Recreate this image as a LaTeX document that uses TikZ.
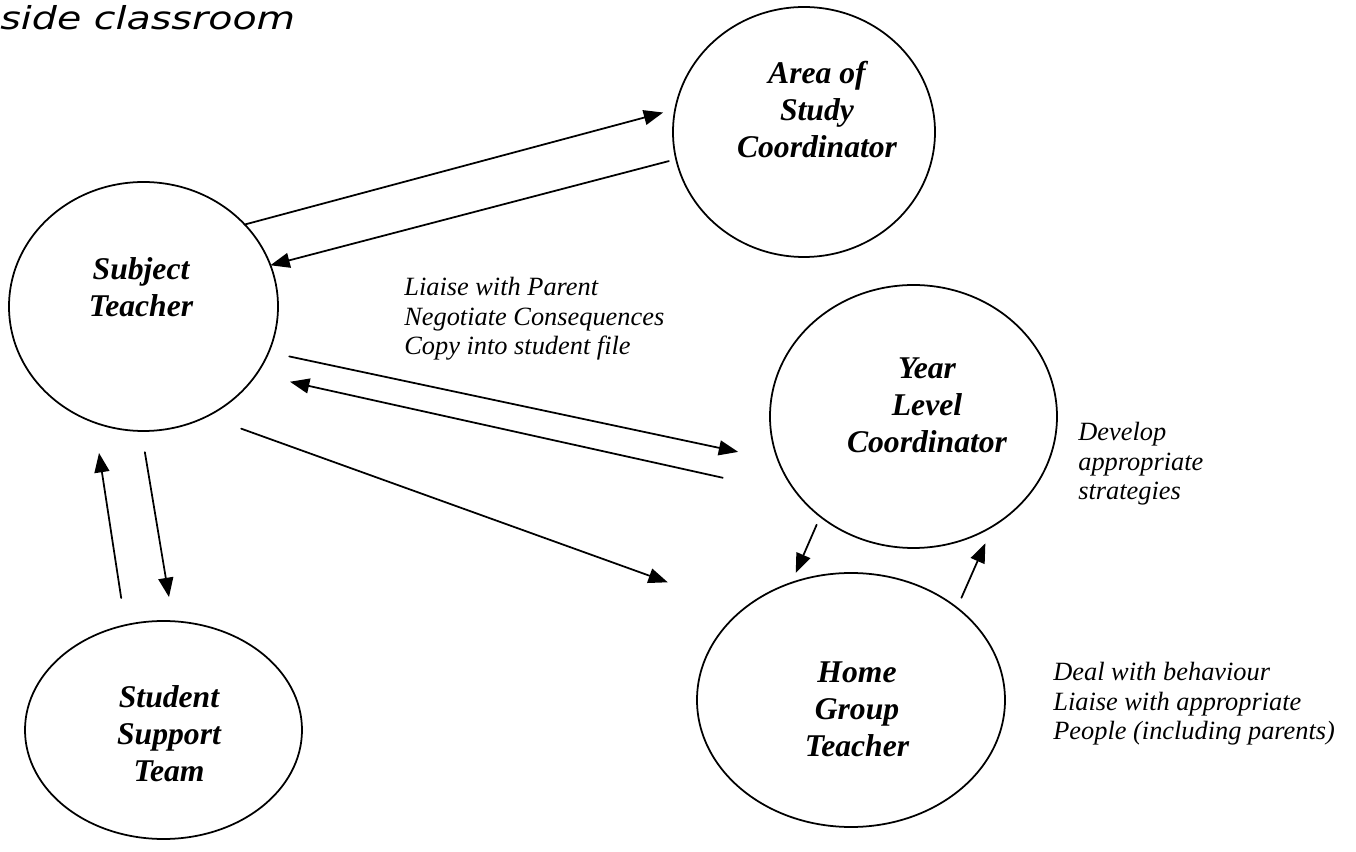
\documentclass[tikz,border=0pt]{standalone}
\usepackage{fontspec}
\setmainfont{Liberation Serif}
\newfontfamily\headfont[FakeStretch=1.25]{DejaVu Sans}
\usetikzlibrary{shapes.geometric,arrows.meta}

\begin{document}
\begin{tikzpicture}[>={Triangle[length=11pt,width=8.5pt]},line cap=round,line join=round,
  bubble/.style={draw,ellipse,line width=1pt,inner sep=0pt,outer sep=0pt},
  role/.style={align=center,inner sep=0pt,font=\fontsize{18}{21}\selectfont\bfseries\itshape},
  note/.style={align=left,anchor=north west,inner sep=0pt,font=\fontsize{15}{17}\selectfont\itshape}]
\useasboundingbox (0,0) rectangle (27.12,-17.04);
\node[anchor=base west,inner sep=0pt,font=\headfont\itshape\fontsize{18}{21}\selectfont] (head) at (0,-0.6) {side classroom};
% the five people
\foreach \nm/\x/\y/\w/\h in {subj/2.87/-6.13/5.38/4.98,area/16.08/-2.64/5.24/5.0,year/18.27/-8.33/5.74/5.26,home/17.02/-14.0/6.16/5.08,supp/3.27/-14.6/5.54/4.36}
  \node[bubble,minimum width=\w cm,minimum height=\h cm] (\nm) at (\x,\y) {};
\node[role] (subjtxt) at (2.82,-5.74) {Subject\\Teacher};
\node[role] (areatxt) at (16.34,-2.19) {Area of\\Study\\Coordinator};
\node[role] (yeartxt) at (18.54,-8.1) {Year\\Level\\Coordinator};
\node[role] (hometxt) at (17.14,-14.18) {Home\\Group\\Teacher};
\node[role] (supptxt) at (3.38,-14.68) {Student\\Support\\Team};
% what each one does
\node[note] (liaise) at (8.08,-5.53) {Liaise with Parent\\Negotiate Consequences\\Copy into student file};
\node[note] (develop) at (21.56,-8.43) {Develop\\appropriate\\strategies};
\node[note] (deal) at (21.06,-13.23) {Deal with behaviour\\Liaise with appropriate\\People (including parents)};
% referrals
\foreach \a/\b/\s/\e in {subj.39/area.170/0/0.25,area.192/subj.18/0.15/0,subj.-20/year.198/0.42/0.82,year.214/subj.-31/1.54/0.69,subj.-60/home.140/0.73/1.6,supp.110/subj.247/0.55/0.62,subj.269/supp.85/0.43/0.49,year.227/home.117/0.18/0.22,home.41/year.-54/0.22/0.38}
  \draw[->,line width=1pt,shorten <=\s cm,shorten >=\e cm] (\a) -- (\b);
\end{tikzpicture}
\end{document}
